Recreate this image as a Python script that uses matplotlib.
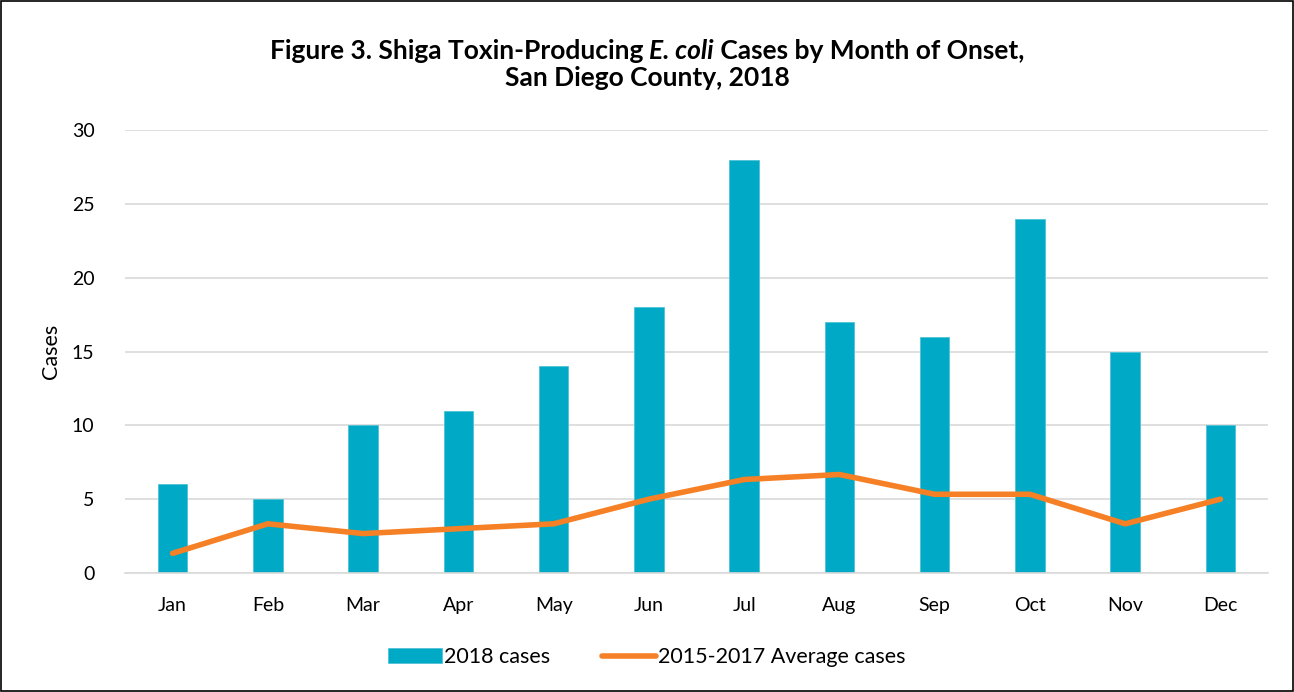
import matplotlib
matplotlib.use('Agg')
import matplotlib.pyplot as plt
from matplotlib.patches import Rectangle
import numpy as np

plt.rcParams['font.family'] = ['Lato', 'DejaVu Sans']

months = ['Jan', 'Feb', 'Mar', 'Apr', 'May', 'Jun',
          'Jul', 'Aug', 'Sep', 'Oct', 'Nov', 'Dec']
cases_2018 = [6, 5, 10, 11, 14, 18, 28, 17, 16, 24, 15, 10]
avg_2015_2017 = [1.33, 3.33, 2.67, 3.0, 3.33, 5.0, 6.33, 6.67, 5.33, 5.33, 3.33, 5.0]
yticks = [0, 5, 10, 15, 20, 25, 30]

bar_color = '#00A9C6'
line_color = '#F58025'

fig = plt.figure(figsize=(12.94, 6.92), dpi=100)
ax = fig.add_axes([0.0966, 0.172, 0.8834, 0.64])

x = np.arange(len(months))
bars = ax.bar(x, cases_2018, width=0.31, color=bar_color, edgecolor='#4FC3D6',
              linewidth=0.6, label='2018 cases', zorder=2)
line, = ax.plot(x, avg_2015_2017, color=line_color, linewidth=4, solid_capstyle='round',
                label='2015-2017 Average cases', zorder=3)

ax.set_xlim(-0.5, len(months) - 0.5)
ax.set_ylim(0, 30)
ax.set_yticks(yticks)
ax.set_yticklabels([str(v) for v in yticks])
ax.set_xticks(x)
ax.set_xticklabels(months)
ax.tick_params(axis='both', length=0, labelsize=14, colors='#000000')
ax.tick_params(axis='x', pad=17)
ax.tick_params(axis='y', pad=22)
ax.yaxis.grid(True, color='#D9D9D9', linewidth=1.2, zorder=0)
ax.set_axisbelow(True)
for side in ['top', 'right', 'left']:
    ax.spines[side].set_visible(False)
ax.spines['bottom'].set_color('#D9D9D9')
ax.spines['bottom'].set_linewidth(1.2)

ax.set_ylabel('Cases', fontsize=15.5, labelpad=8)

# title line 1 in three pieces so "E. coli" can be italic
title_parts = [('Figure 3. Shiga Toxin-Producing ', 'normal'),
               ('E. coli', 'italic'),
               (' Cases by Month of Onset,', 'normal')]
tsize = 19
renderer = fig.canvas.get_renderer()
texts = []
for s, st in title_parts:
    t = fig.text(0, 0.927, s, ha='left', va='center', fontsize=tsize,
                 fontweight='bold', style=st)
    texts.append(t)
widths = [t.get_window_extent(renderer).width for t in texts]
total = sum(widths)
xpos = (fig.bbox.width - total) / 2
for t, w in zip(texts, widths):
    t.set_x(xpos / fig.bbox.width)
    xpos += w
fig.text(0.5, 0.887, 'San Diego County, 2018', ha='center', va='center',
         fontsize=tsize, fontweight='bold')

fig.legend([bars, line], ['2018 cases', '2015-2017 Average cases'],
           loc='center', bbox_to_anchor=(0.5, 0.05), ncol=2, frameon=False,
           fontsize=15.5, handlelength=2.5, handletextpad=0.1, columnspacing=2.4)

fig.patches.append(Rectangle((0.001, 0.001), 0.998, 0.998, transform=fig.transFigure,
                             fill=False, edgecolor='black', linewidth=1.2))

fig.savefig('out.png', dpi=100)
